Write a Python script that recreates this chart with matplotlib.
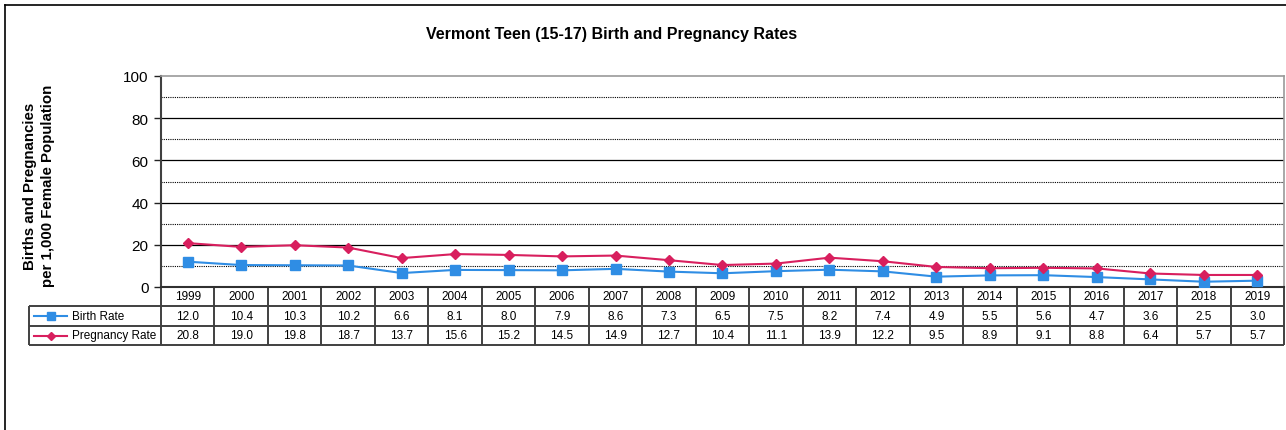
import numpy as np
import matplotlib
matplotlib.use("Agg")
from matplotlib import pyplot as plt
from matplotlib.lines import Line2D

plt.rcParams['font.family'] = ['Liberation Sans', 'DejaVu Sans']

years = [str(y) for y in range(1999, 2020)]
birth_rate = [12.0, 10.4, 10.3, 10.2, 6.6, 8.1, 8.0, 7.9, 8.6, 7.3, 6.5,
              7.5, 8.2, 7.4, 4.9, 5.5, 5.6, 4.7, 3.6, 2.5, 3.0]
pregnancy_rate = [20.8, 19.0, 19.8, 18.7, 13.7, 15.6, 15.2, 14.5, 14.9, 12.7, 10.4,
                  11.1, 13.9, 12.2, 9.5, 8.9, 9.1, 8.8, 6.4, 5.7, 5.7]
series_names = ["Birth Rate", "Pregnancy Rate"]

BLUE = "#2f8de4"
PINK = "#d81f5e"
GRID = "#404040"

W, H = 1286, 431
fig = plt.figure(figsize=(W / 100, H / 100), dpi=100)

# plot area in pixels
L, R, T, B = 161, 1284, 77, 288
ax = fig.add_axes([L / W, 1 - B / H, (R - L) / W, (B - T) / H])

x = np.arange(len(years))
ax.plot(x, birth_rate, color=BLUE, lw=1.5, marker='s', ms=7.5, mec=BLUE, mfc=BLUE, zorder=4)
ax.plot(x, pregnancy_rate, color=PINK, lw=1.5, marker='D', ms=5.5, mec=PINK, mfc=PINK, zorder=5)

ax.set_xlim(-0.5, len(years) - 0.5)
ax.set_ylim(0, 100)
ax.set_yticks(range(0, 101, 20))
ax.set_xticks([])
ax.tick_params(axis='y', direction='out', length=5, width=1, labelsize=11, pad=4, colors='#222222')
for lab in ax.get_yticklabels():
    lab.set_color('black')

for v in (20, 40, 60, 80):
    ax.axhline(v, color='black', lw=0.9, zorder=1)
for v in (10, 30, 50, 70, 90):
    ax.axhline(v, color='black', lw=0.8, ls=(0, (1, 1)), zorder=1)

for s in ('top', 'right'):
    ax.spines[s].set_color('#9a9a9a')
    ax.spines[s].set_linewidth(1.2)
ax.spines['left'].set_color('#404040')
ax.spines['left'].set_linewidth(1.5)
ax.spines['bottom'].set_color('#303030')
ax.spines['bottom'].set_linewidth(1.5)

# data table below the plot (axes fraction coords)
n = len(years)
ph = B - T
rows_px = [288, 307, 327, 346]
ry = [-(r - B) / ph for r in rows_px]
leg_left = (29 - L) / (R - L)
tk = dict(transform=ax.transAxes, clip_on=False, color=GRID, lw=1.4, solid_capstyle='butt')

for i in range(n + 1):
    xf = i / n
    ax.plot([xf, xf], [ry[0], ry[3]], **tk)
ax.plot([0, 1], [ry[0], ry[0]], **tk)
ax.plot([leg_left, 1], [ry[1], ry[1]], **tk)
ax.plot([leg_left, 1], [ry[2], ry[2]], **tk)
ax.plot([leg_left, 1], [ry[3], ry[3]], **tk)
ax.plot([leg_left, leg_left], [ry[1], ry[3]], **tk)

for i, yr in enumerate(years):
    xc = (i + 0.5) / n
    ax.text(xc, (ry[0] + ry[1]) / 2, yr, transform=ax.transAxes, ha='center', va='center', fontsize=8.5)
    ax.text(xc, (ry[1] + ry[2]) / 2, f"{birth_rate[i]:.1f}", transform=ax.transAxes,
            ha='center', va='center', fontsize=8.5)
    ax.text(xc, (ry[2] + ry[3]) / 2, f"{pregnancy_rate[i]:.1f}", transform=ax.transAxes,
            ha='center', va='center', fontsize=8.5)

# legend keys inside table
for k, (name, col, mk, ms) in enumerate(zip(series_names, [BLUE, PINK], ['s', 'D'], [6, 4])):
    yc = (ry[k + 1] + ry[k + 2]) / 2
    x0 = (34 - L) / (R - L)
    x1 = (67 - L) / (R - L)
    ax.add_line(Line2D([x0, x1], [yc, yc], transform=ax.transAxes, color=col, lw=1.5, clip_on=False))
    ax.add_line(Line2D([(x0 + x1) / 2], [yc], transform=ax.transAxes, color=col, marker=mk,
                       ms=ms, mec=col, mfc=col, clip_on=False))
    ax.text((72 - L) / (R - L), yc, name, transform=ax.transAxes, ha='left', va='center', fontsize=8.5)

fig.text(612 / W, 1 - 35 / H, "Vermont Teen (15-17) Birth and Pregnancy Rates",
         ha='center', va='center', fontsize=11.5, fontweight='bold')
fig.text(39 / W, 1 - 186 / H, "Births and Pregnancies\nper 1,000 Female Population",
         ha='center', va='center', rotation=90, fontsize=10.8, fontweight='bold', linespacing=1.3)

# outer chart border (top and left visible)
fig.add_artist(Line2D([5 / W, 1.01], [1 - 6 / H, 1 - 6 / H], transform=fig.transFigure, color='black', lw=1.2))
fig.add_artist(Line2D([5 / W, 5 / W], [1 - 6 / H, -0.01], transform=fig.transFigure, color='black', lw=1.2))

fig.savefig("out.png", dpi=100)
